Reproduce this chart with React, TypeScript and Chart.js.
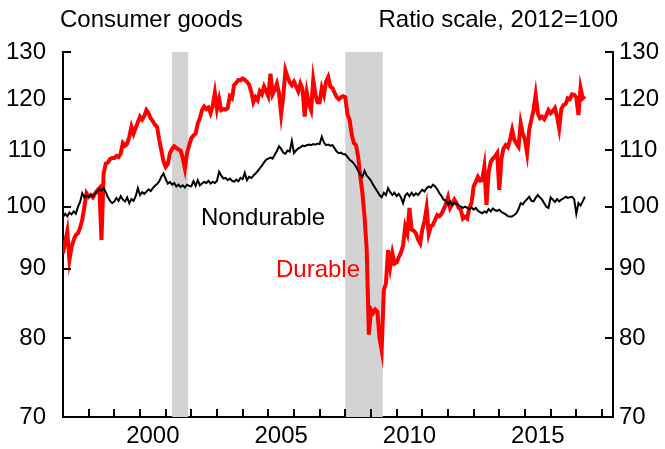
import React, { useEffect, useRef } from "react";
import { Chart, registerables } from "chart.js";

Chart.register(...registerables);

const START_YEAR = 1997;

const nondurable: number[] = [
  98.3, 98.8, 98.4, 99.0, 98.7, 99.2, 98.8, 100.0, 100.8, 102.3, 101.6, 101.9,
  101.7, 102.0, 101.8, 102.2, 102.6, 103.0, 102.8, 103.2, 102.5, 101.6, 101.0, 100.6,
  100.9, 101.5, 101.0, 101.8, 101.2, 100.9, 101.6, 100.6, 101.3, 101.0, 101.8, 103.2,
  102.0, 102.5, 102.2, 102.6, 103.0, 102.7, 103.2, 103.6, 103.9, 104.4, 105.2, 105.8,
  104.8, 104.0, 104.3, 103.8, 104.1, 103.5, 103.8, 103.4, 103.7, 103.3, 103.8, 103.6,
  103.5, 104.4, 103.6, 104.6, 103.7, 104.0, 104.3, 104.1, 104.5, 104.0, 104.3, 104.1,
  104.5, 106.1, 105.4, 104.9, 105.0, 104.6, 104.9, 104.5, 104.3, 104.7, 104.4, 105.0,
  104.8, 105.9, 104.6, 105.2, 105.0, 105.4, 105.8, 106.2, 106.7, 107.2, 107.8, 108.3,
  108.5, 108.7, 108.5, 109.2, 109.9, 110.8, 110.3, 109.6, 109.4, 110.0, 109.8, 111.8,
  109.5, 110.0, 110.4, 110.6, 110.9, 110.8, 111.0, 111.1, 111.0, 111.2, 111.1, 111.3,
  111.2, 112.6, 111.5, 111.0, 111.1, 110.9, 111.0, 110.4, 109.8, 109.5, 109.6, 109.3,
  109.3, 108.8, 108.3, 108.0, 107.6, 107.0, 106.3, 105.6, 105.2, 106.3, 105.4, 105.0,
  104.5, 103.8, 103.2, 102.6, 102.0, 101.6, 102.4, 102.0, 103.2, 102.5, 102.0, 102.4,
  101.8, 102.2, 101.6, 100.6, 101.9, 102.3, 101.8, 102.4, 101.9, 102.3, 102.0, 102.5,
  102.9, 102.6, 103.2, 103.5, 103.3, 103.8, 103.5, 103.0, 102.3, 101.8, 101.2, 101.0,
  100.4, 100.9, 100.3, 100.6, 100.5, 100.2, 100.0, 99.8, 100.0, 99.8, 99.6, 99.9,
  99.5, 99.8, 99.3, 99.1, 98.9, 99.2, 99.0, 99.6, 99.2, 99.7, 99.4, 99.3,
  99.5, 99.1, 98.9, 98.7, 98.4, 98.3, 98.4, 98.6, 98.9, 99.6, 100.6, 100.4,
  100.9, 101.3, 101.7, 101.0, 100.9, 101.5, 102.0, 101.6, 101.2, 100.6, 100.0, 99.8,
  101.6, 101.2, 100.8, 101.3, 100.9, 101.2, 101.4, 101.7, 101.5, 101.6, 101.7, 101.3,
  98.8, 100.6, 100.2, 100.9, 101.7,
];

const durable: number[] = [
  92.4, 94.2, 95.9, 91.4, 93.4, 94.5, 95.3, 95.6, 96.5, 97.8, 100.0, 102.3,
  101.7, 102.0, 101.6, 102.3, 102.8, 103.2, 94.5, 105.8, 107.6, 107.8, 108.4, 108.6,
  108.6, 109.0, 108.8, 109.5, 111.4, 110.9, 111.3, 112.6, 114.5, 113.2, 114.3, 115.4,
  116.5, 115.9, 116.6, 117.8, 117.2, 116.2, 115.6, 114.9, 114.5, 112.0, 110.0, 108.0,
  107.0, 107.5, 109.5, 110.3, 110.8, 110.5, 110.2, 110.0, 108.6, 106.7, 109.5, 111.0,
  112.3, 112.8, 113.2, 115.2, 116.2, 117.8, 118.5, 118.0, 118.3, 117.2, 118.6, 121.3,
  118.0, 120.0, 117.8, 118.0, 117.9, 118.2, 120.6, 120.2, 122.9, 123.4, 124.0, 123.9,
  124.3, 124.0, 123.6, 123.0, 121.6, 119.4, 120.4, 119.8, 121.6, 121.0, 122.6, 121.6,
  120.6, 125.3, 121.0, 121.9, 123.2, 121.2, 117.0, 120.6, 126.0, 124.6, 123.5, 122.9,
  123.6, 122.6, 121.6, 123.2, 122.0, 116.5, 121.3, 119.0, 117.8, 124.0, 121.0, 119.4,
  119.4, 122.3, 120.9, 123.6, 124.6, 122.6, 122.3, 121.3, 120.4, 120.0, 120.4, 120.6,
  120.4, 117.0, 115.9, 113.0, 111.4, 111.0, 108.9, 105.2, 102.3, 98.3, 93.0, 80.5,
  84.0, 83.5, 84.0, 83.7, 80.0, 78.4, 86.8, 87.8, 92.9, 90.3, 92.4, 90.8,
  91.0, 91.8, 92.5, 93.6, 96.7, 95.6, 99.8, 96.2, 96.0, 95.6, 94.6, 94.0,
  96.2, 97.5, 99.8, 95.5, 96.7, 97.0, 97.8, 98.6, 98.4, 98.8, 99.6, 100.4,
  101.6, 99.8, 100.5, 101.2, 100.6, 99.8, 99.5, 98.0, 98.3, 98.0, 99.8, 100.6,
  103.5, 104.3, 105.2, 104.5, 104.6, 107.0, 100.3, 106.0, 107.9, 108.5, 108.9, 109.5,
  102.9, 108.5, 110.4, 111.0, 110.6, 112.0, 113.9, 112.0, 111.3, 110.7, 115.2, 113.2,
  112.0, 109.5, 114.0, 115.9, 117.8, 120.9, 117.2, 116.2, 116.5, 116.0, 116.8, 117.8,
  117.2, 117.6, 118.2, 116.5, 114.2, 118.0, 118.8, 119.0, 120.2, 120.0, 121.0, 120.9,
  120.4, 116.8, 122.3, 120.2, 120.6,
];

const recessionStarts = [2001.25, 2008.0];
const recessionEnds = [2001.88, 2009.46];
const yTickValues = [70, 80, 90, 100, 110, 120, 130];
const xLabelYears = [2000, 2005, 2010, 2015];
const xTickYears = [
  1998, 1999, 2000, 2001, 2002, 2003, 2004, 2005, 2006, 2007, 2008,
  2009, 2010, 2011, 2012, 2013, 2014, 2015, 2016, 2017, 2018,
];
const X_MIN = 1997;
const X_MAX = 2018.43;
const Y_MIN = 70;
const Y_MAX = 130;

const FONT = "'Liberation Sans', Arial, Helvetica, sans-serif";
const FS = 24;

const toPoints = (vals: number[]) =>
  vals.map((v, i) => ({ x: START_YEAR + i / 12, y: v }));

const decorPlugin = {
  id: "decor",
  beforeDatasetsDraw(chart: any) {
    const { ctx, chartArea, scales } = chart;
    const xs = scales.x;
    ctx.save();
    ctx.fillStyle = "#d3d3d3";
    for (let i = 0; i < recessionStarts.length; i++) {
      const a = xs.getPixelForValue(recessionStarts[i]);
      const b = xs.getPixelForValue(recessionEnds[i]);
      ctx.fillRect(a, chartArea.top, b - a, chartArea.bottom - chartArea.top);
    }
    ctx.restore();
  },
  afterDraw(chart: any) {
    const { ctx, chartArea, scales } = chart;
    const xs = scales.x;
    const ys = scales.y;
    ctx.save();
    ctx.strokeStyle = "#000";
    ctx.lineWidth = 2;
    ctx.beginPath();
    for (const v of yTickValues) {
      const py = Math.round(ys.getPixelForValue(v));
      ctx.moveTo(chartArea.left, py);
      ctx.lineTo(chartArea.left + 8, py);
      ctx.moveTo(chartArea.right, py);
      ctx.lineTo(chartArea.right - 8, py);
    }
    for (const yr of xTickYears) {
      const px = Math.round(xs.getPixelForValue(yr));
      ctx.moveTo(px, chartArea.bottom);
      ctx.lineTo(px, chartArea.bottom - 8);
    }
    ctx.stroke();

    ctx.font = `${FS}px ${FONT}`;
    ctx.textBaseline = "alphabetic";
    ctx.fillStyle = "#000";
    ctx.textAlign = "left";
    ctx.fillText("Consumer goods", 60, 27);
    ctx.textAlign = "right";
    ctx.fillText("Ratio scale, 2012=100", 618, 27);
    ctx.textAlign = "left";
    ctx.fillText("Nondurable", 201, 225);
    ctx.fillStyle = "#ff0000";
    ctx.fillText("Durable", 276, 277);
    ctx.restore();
  },
};

export default function App() {
  const ref = useRef<HTMLCanvasElement>(null);
  useEffect(() => {
    if (!ref.current) return;
    const chart = new Chart(ref.current, {
      type: "line",
      data: {
        datasets: [
          {
            label: "Nondurable",
            data: toPoints(nondurable),
            borderColor: "#000000",
            borderWidth: 2,
            pointRadius: 0,
            tension: 0,
            order: 0,
            yAxisID: "y",
          },
          {
            label: "Durable",
            data: toPoints(durable),
            borderColor: "#ff0000",
            borderWidth: 4,
            pointRadius: 0,
            tension: 0,
            order: 1,
            yAxisID: "y",
          },
        ],
      },
      options: {
        animation: false,
        responsive: false,
        maintainAspectRatio: false,
        layout: { padding: { top: 52, left: 0, right: 0, bottom: 0 } },
        plugins: {
          legend: { display: false },
          tooltip: { enabled: false },
          title: { display: false },
        },
        scales: {
          x: {
            type: "linear",
            min: X_MIN,
            max: X_MAX,
            grid: { display: false, drawTicks: false },
            border: { display: true, color: "#000", width: 2 },
            afterBuildTicks: (scale: any) => {
              scale.ticks = xLabelYears.map((y) => ({ value: y + 0.5 }));
            },
            afterFit: (scale: any) => {
              scale.height = 32;
            },
            ticks: {
              color: "#000",
              font: { size: FS, family: FONT },
              padding: 5,
              maxRotation: 0,
              autoSkip: false,
              callback: (v: any) => String(Math.floor(Number(v))),
            },
          },
          y: {
            type: "logarithmic",
            position: "left",
            min: Y_MIN,
            max: Y_MAX,
            grid: { display: false, drawTicks: false },
            border: { display: true, color: "#000", width: 2 },
            afterBuildTicks: (scale: any) => {
              scale.ticks = yTickValues.map((v) => ({ value: v }));
            },
            afterFit: (scale: any) => {
              scale.width = 63;
            },
            ticks: {
              color: "#000",
              font: { size: FS, family: FONT },
              padding: 17,
              autoSkip: false,
              callback: (v: any) => String(v),
            },
          },
          y2: {
            type: "logarithmic",
            position: "right",
            min: Y_MIN,
            max: Y_MAX,
            grid: { display: false, drawTicks: false },
            border: { display: true, color: "#000", width: 2 },
            afterBuildTicks: (scale: any) => {
              scale.ticks = yTickValues.map((v) => ({ value: v }));
            },
            afterFit: (scale: any) => {
              scale.width = 52;
            },
            ticks: {
              color: "#000",
              font: { size: FS, family: FONT },
              padding: 6,
              autoSkip: false,
              callback: (v: any) => String(v),
            },
          },
        },
      },
      plugins: [decorPlugin],
    });
    return () => chart.destroy();
  }, []);

  return (
    <div style={{ position: "absolute", left: 0, top: 0, width: 665, height: 449, background: "#fff" }}>
      <canvas ref={ref} width={665} height={449} style={{ display: "block" }} />
    </div>
  );
}
